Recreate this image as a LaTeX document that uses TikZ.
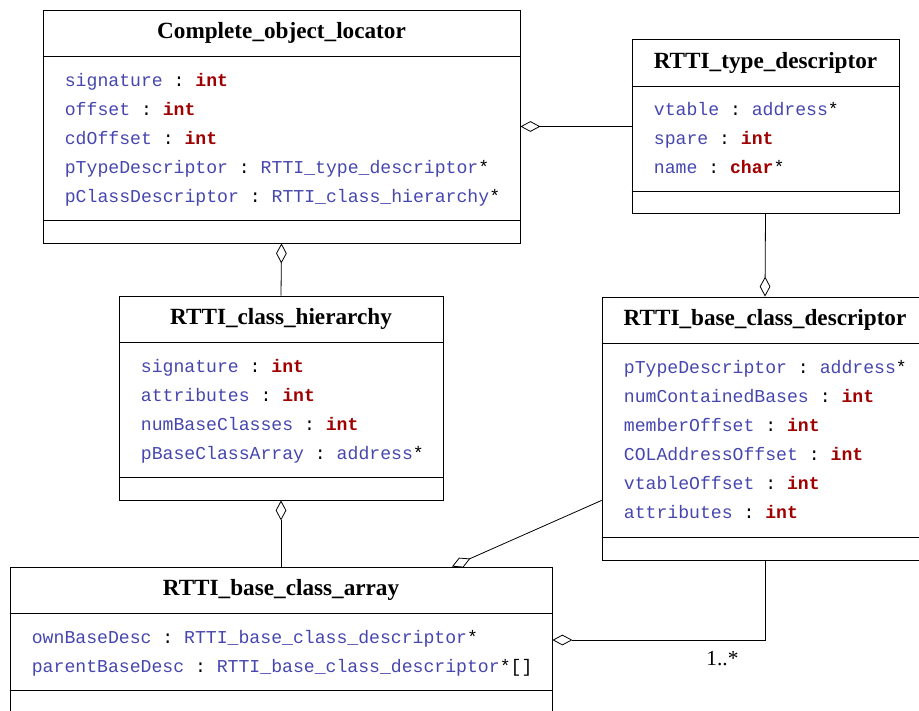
\documentclass[tikz,border=0pt]{standalone}
\usepackage{fontspec}
\setmainfont{Liberation Serif}
\setmonofont{Liberation Mono}
\usetikzlibrary{
	arrows.meta,
	positioning,
	calc
}
\definecolor{fieldblue}{RGB}{70,70,175}
\definecolor{typered}{RGB}{160,0,0}
\newcommand{\fld}[1]{\strut{\color{fieldblue}#1} : }
\newcommand{\kw}[1]{{\color{typered}\bfseries #1}}
\newcommand{\ty}[1]{{\color{fieldblue}#1}}

\begin{document}
\begin{tikzpicture}[
		x=0.75pt, y=-0.75pt,
		cls/.style={draw, line width=0.6pt, inner sep=0pt},
		clstitle/.style={font=\fontsize{17.4pt}{20pt}\selectfont\bfseries},
		fields/.style={anchor=west, align=left, inner sep=0pt, font=\fontsize{13.6pt}{21.75pt}\selectfont\ttfamily},
		divider/.style={line width=0.6pt},
		agg/.style={{Diamond[open, length=15pt, width=8pt]}-, line width=0.6pt},
		mult/.style={font=\fontsize{16pt}{18pt}\selectfont}
		]
		
		\clip (0,0) rectangle (919,710);
		
		% =========================
		% Complete object locator
		% =========================
		\node[cls, minimum width=357.75pt, minimum height=174.75pt] (col) at (281.5,126.5) {};
		\node[clstitle] (coltitle) at ($(col.north)+(0,23.5)$) {Complete\_object\_locator};
		\node[fields] (colfields) at ($(col.west)+(22,12)$) {
			\fld{signature}\kw{int}\\
			\fld{offset}\kw{int}\\
			\fld{cdOffset}\kw{int}\\
			\fld{pTypeDescriptor}\ty{RTTI\_type\_descriptor}*\\
			\fld{pClassDescriptor}\ty{RTTI\_class\_hierarchy}*
		};
		\draw[divider] ($(col.north west)+(0,47)$) -- ($(col.north east)+(0,47)$);
		\draw[divider] ($(col.south west)+(0,-23)$) -- ($(col.south east)+(0,-23)$);
		
		% =========================
		% Type descriptor
		% =========================
		\node[cls, minimum width=200.25pt, minimum height=130.5pt] (typed) at (765.5,126.5) {};
		\node[clstitle] (typedtitle) at ($(typed.north)+(0,23.5)$) {RTTI\_type\_descriptor};
		\node[fields] (typedfields) at ($(typed.west)+(22,12)$) {
			\fld{vtable}\ty{address}*\\
			\fld{spare}\kw{int}\\
			\fld{name}\kw{char}*
		};
		\draw[divider] ($(typed.north west)+(0,47)$) -- ($(typed.north east)+(0,47)$);
		\draw[divider] ($(typed.south west)+(0,-23)$) -- ($(typed.south east)+(0,-23)$);
		
		% =========================
		% Class hierarchy
		% =========================
		\node[cls, minimum width=243pt, minimum height=153pt] (hier) at (281,398) {};
		\node[clstitle] (hiertitle) at ($(hier.north)+(0,23.5)$) {RTTI\_class\_hierarchy};
		\node[fields] (hierfields) at ($(hier.west)+(22,12)$) {
			\fld{signature}\kw{int}\\
			\fld{attributes}\kw{int}\\
			\fld{numBaseClasses}\kw{int}\\
			\fld{pBaseClassArray}\ty{address}*
		};
		\draw[divider] ($(hier.north west)+(0,47)$) -- ($(hier.north east)+(0,47)$);
		\draw[divider] ($(hier.south west)+(0,-23)$) -- ($(hier.south east)+(0,-23)$);
		
		% =========================
		% Base class descriptor
		% =========================
		\node[cls, minimum width=244.5pt, minimum height=197.25pt] (bcd) at (765,428.5) {};
		\node[clstitle] (bcdtitle) at ($(bcd.north)+(0,23.5)$) {RTTI\_base\_class\_descriptor};
		\node[fields] (bcdfields) at ($(bcd.west)+(22,12)$) {
			\fld{pTypeDescriptor}\ty{address}*\\
			\fld{numContainedBases}\kw{int}\\
			\fld{memberOffset}\kw{int}\\
			\fld{COLAddressOffset}\kw{int}\\
			\fld{vtableOffset}\kw{int}\\
			\fld{attributes}\kw{int}
		};
		\draw[divider] ($(bcd.north west)+(0,47)$) -- ($(bcd.north east)+(0,47)$);
		\draw[divider] ($(bcd.south west)+(0,-23)$) -- ($(bcd.south east)+(0,-23)$);
		
		% =========================
		% Base class array
		% =========================
		\node[cls, minimum width=406.5pt, minimum height=109.5pt] (bca) at (281,640) {};
		\node[clstitle] (bcatitle) at ($(bca.north)+(0,23.5)$) {RTTI\_base\_class\_array};
		\node[fields] (bcafields) at ($(bca.west)+(22,12)$) {
			\fld{ownBaseDesc}\ty{RTTI\_base\_class\_descriptor}*\\
			\fld{parentBaseDesc}\ty{RTTI\_base\_class\_descriptor}*[]
		};
		\draw[divider] ($(bca.north west)+(0,47)$) -- ($(bca.north east)+(0,47)$);
		\draw[divider] ($(bca.south west)+(0,-23)$) -- ($(bca.south east)+(0,-23)$);
		
		% =========================
		% Aggregations
		% =========================
		\draw[agg] (col.east) -- (typed.west);
		\draw[agg] (col.south) -- (hier.north);
		\draw[agg] (bcd.north) -- (typed.south);
		\draw[agg] (hier.south) -- (bca.north);
		\draw[agg] ([xshift=128.25pt]bca.north) -- ([yshift=45pt]bcd.south west);
		\draw[agg] (bca.east) -| node[mult, pos=0.4, below=5pt] (many) {1..*} (bcd.south);
		
	\end{tikzpicture}
\end{document}
